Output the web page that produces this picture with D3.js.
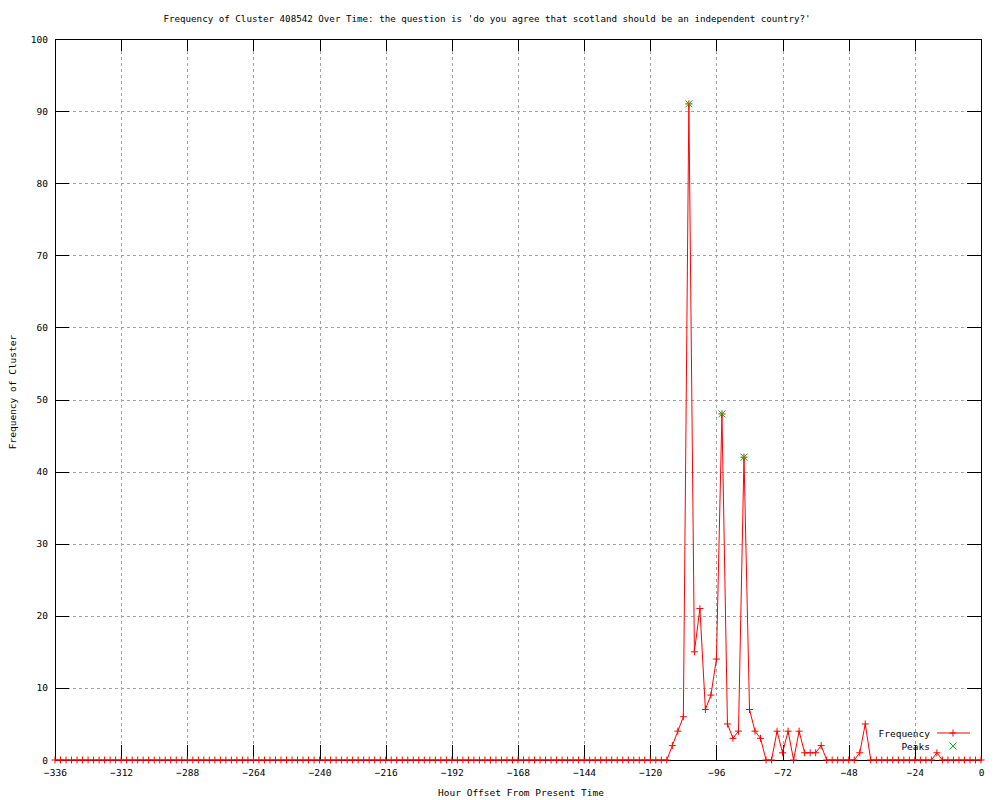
<!DOCTYPE html>
<html>
<head>
<meta charset="utf-8">
<script src="https://cdn.jsdelivr.net/npm/d3@7"></script>
<style>
  body { margin: 0; background: #fff; }
  svg text { font-family: "DejaVu Sans Mono", monospace; font-size: 9.5px; fill: #000; }
</style>
</head>
<body>
<div id="chart"></div>
<script>
// hour offsets run -336 .. 0 every 2 hours; one row = 24 hours
const frequency = [
    0, 0, 0, 0, 0, 0, 0, 0, 0, 0, 0, 0,   // -336 .. -314
    0, 0, 0, 0, 0, 0, 0, 0, 0, 0, 0, 0,   // -312 .. -290
    0, 0, 0, 0, 0, 0, 0, 0, 0, 0, 0, 0,   // -288 .. -266
    0, 0, 0, 0, 0, 0, 0, 0, 0, 0, 0, 0,   // -264 .. -242
    0, 0, 0, 0, 0, 0, 0, 0, 0, 0, 0, 0,   // -240 .. -218
    0, 0, 0, 0, 0, 0, 0, 0, 0, 0, 0, 0,   // -216 .. -194
    0, 0, 0, 0, 0, 0, 0, 0, 0, 0, 0, 0,   // -192 .. -170
    0, 0, 0, 0, 0, 0, 0, 0, 0, 0, 0, 0,   // -168 .. -146
    0, 0, 0, 0, 0, 0, 0, 0, 0, 0, 0, 0,   // -144 .. -122
    0, 0, 0, 0, 2, 4, 6, 91, 15, 21, 7, 9, // -120 .. -98
    14, 48, 5, 3, 4, 42, 7, 4, 3, 0, 0, 4, // -96 .. -74
    1, 4, 0, 4, 1, 1, 1, 2, 0, 0, 0, 0,   // -72 .. -50
    0, 0, 1, 5, 0, 0, 0, 0, 0, 0, 0, 0,   // -48 .. -26
    0, 0, 0, 0, 1, 0, 0, 0, 0, 0, 0, 0,   // -24 .. -2
    0                                     // 0
];
const peakHours = [-106, -94, -86];
const peakValues = [91, 48, 42];

const xTicks = [-336, -312, -288, -264, -240, -216, -192, -168, -144, -120, -96, -72, -48, -24, 0];
const yTicks = [0, 10, 20, 30, 40, 50, 60, 70, 80, 90, 100];

const titleText = "Frequency of Cluster 408542 Over Time: the question is 'do you agree that scotland should be an independent country?'";

const width = 1000;
const height = 800;
const plot = { left: 55, right: 981, top: 39, bottom: 760 };

const points = frequency.map((v, i) => ({ hour: -336 + 2 * i, value: v }));
const peaks = peakHours.map((h, i) => ({ hour: h, value: peakValues[i] }));

const svg = d3.select('#chart')
    .append('svg')
    .attr('width', width)
    .attr('height', height);

const xScale = d3.scaleLinear().domain([-336, 0]).range([plot.left, plot.right]);
const yScale = d3.scaleLinear().domain([0, 100]).range([plot.bottom, plot.top]);

// gridlines
const grid = svg.append('g')
    .attr('stroke', '#a0a0a0')
    .attr('stroke-dasharray', '3,3')
    .attr('shape-rendering', 'crispEdges');

grid.selectAll('.vgrid')
    .data(xTicks.slice(1, -1))
    .join('line')
    .attr('x1', d => Math.round(xScale(d)) + 0.5)
    .attr('x2', d => Math.round(xScale(d)) + 0.5)
    .attr('y1', plot.top)
    .attr('y2', plot.bottom);

grid.selectAll('.hgrid')
    .data(yTicks.slice(1, -1))
    .join('line')
    .attr('y1', d => Math.round(yScale(d)) + 0.5)
    .attr('y2', d => Math.round(yScale(d)) + 0.5)
    .attr('x1', plot.left)
    .attr('x2', plot.right);

// axes, gnuplot style: inward ticks mirrored on all sides
svg.append('g')
    .attr('transform', `translate(0,${plot.bottom})`)
    .call(d3.axisBottom(xScale).tickValues(xTicks).tickSize(-15).tickPadding(9).tickSizeOuter(0))
    .call(g => g.select('.domain').remove());

svg.append('g')
    .attr('transform', `translate(0,${plot.top})`)
    .call(d3.axisTop(xScale).tickValues(xTicks).tickSize(-12).tickFormat('').tickSizeOuter(0))
    .call(g => g.select('.domain').remove());

svg.append('g')
    .attr('transform', `translate(${plot.left},0)`)
    .call(d3.axisLeft(yScale).tickValues(yTicks).tickSize(-14).tickPadding(7).tickSizeOuter(0))
    .call(g => g.select('.domain').remove());

svg.append('g')
    .attr('transform', `translate(${plot.right},0)`)
    .call(d3.axisRight(yScale).tickValues(yTicks).tickSize(-14).tickFormat('').tickSizeOuter(0))
    .call(g => g.select('.domain').remove());

svg.selectAll('.tick line').attr('stroke', '#000').attr('shape-rendering', 'crispEdges');
svg.selectAll('.tick text').style('font-family', '"DejaVu Sans Mono", monospace').style('font-size', '9.5px');

// border
svg.append('rect')
    .attr('x', plot.left + 0.5)
    .attr('y', plot.top + 0.5)
    .attr('width', plot.right - plot.left)
    .attr('height', plot.bottom - plot.top)
    .attr('fill', 'none')
    .attr('stroke', '#000')
    .attr('shape-rendering', 'crispEdges');

// frequency line
const line = d3.line()
    .x(d => xScale(d.hour))
    .y(d => yScale(d.value));

svg.append('path')
    .datum(points)
    .attr('d', line)
    .attr('fill', 'none')
    .attr('stroke', '#ff0000')
    .attr('stroke-width', 1);

const plusPath = s => `M${-s},0H${s}M0,${-s}V${s}`;
const crossPath = s => `M${-s},${-s}L${s},${s}M${-s},${s}L${s},${-s}`;

svg.append('g')
    .selectAll('path')
    .data(points)
    .join('path')
    .attr('transform', d => `translate(${xScale(d.hour)},${yScale(d.value)})`)
    .attr('d', plusPath(3.5))
    .attr('stroke', '#ff0000')
    .attr('fill', 'none');

svg.append('g')
    .selectAll('path')
    .data(peaks)
    .join('path')
    .attr('transform', d => `translate(${xScale(d.hour)},${yScale(d.value)})`)
    .attr('d', crossPath(3.5))
    .attr('stroke', '#00c000')
    .attr('fill', 'none');

// legend
const legend = svg.append('g');
legend.append('text').attr('x', 930).attr('y', 736.5).attr('text-anchor', 'end').text('Frequency');
legend.append('line').attr('x1', 937).attr('x2', 970).attr('y1', 733).attr('y2', 733).attr('stroke', '#ff0000');
legend.append('path').attr('transform', 'translate(953,733)').attr('d', plusPath(3.5)).attr('stroke', '#ff0000');
legend.append('text').attr('x', 930).attr('y', 749.5).attr('text-anchor', 'end').text('Peaks');
legend.append('path').attr('transform', 'translate(953,746)').attr('d', crossPath(3.5)).attr('stroke', '#00c000');

// titles
svg.append('text')
    .attr('x', 487)
    .attr('y', 22)
    .attr('text-anchor', 'middle')
    .style('font-size', '9.2px')
    .text(titleText);

svg.append('text')
    .attr('x', 521)
    .attr('y', 796)
    .attr('text-anchor', 'middle')
    .text('Hour Offset From Present Time');

svg.append('text')
    .attr('transform', 'translate(16,392) rotate(-90)')
    .attr('text-anchor', 'middle')
    .text('Frequency of Cluster');
</script>
</body>
</html>
